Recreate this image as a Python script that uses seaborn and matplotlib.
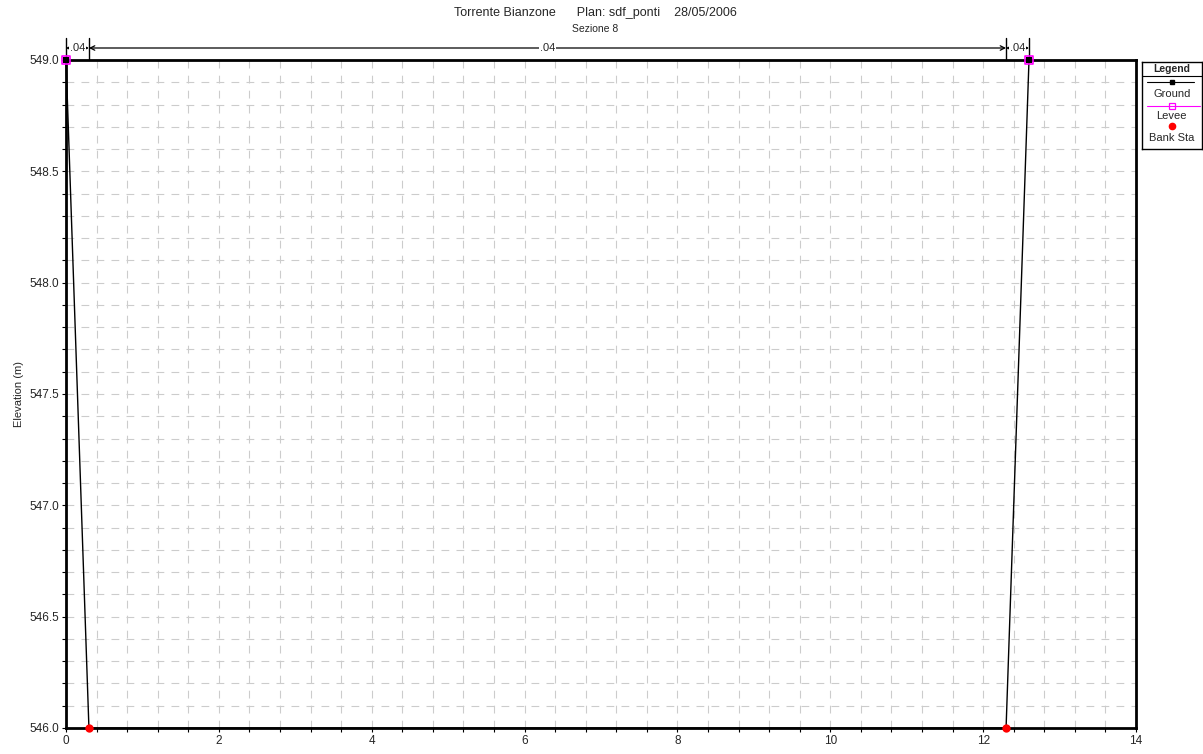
import numpy as np
import pandas as pd
import matplotlib
matplotlib.use("Agg")
import matplotlib.pyplot as plt
from matplotlib.ticker import MultipleLocator, FormatStrFormatter
import matplotlib.transforms as mtransforms
import seaborn as sns

# ---- data ----
ground_station = [0.0, 0.3, 12.3, 12.6]
ground_elev = [549.0, 546.0, 546.0, 549.0]
levee_station = [0.0, 12.6]
levee_elev = [549.0, 549.0]
bank_station = [0.3, 12.3]
bank_elev = [546.0, 546.0]
mann_breaks = [0.0, 0.3, 12.3, 12.6]
mann_values = [".04", ".04", ".04"]
title_main = "Torrente Bianzone      Plan: sdf_ponti    28/05/2006"
title_sub = "Sezione 8"
ylabel = "Elevation (m)"

sns.set_theme(style="white")
plt.rcParams['font.family'] = ['Liberation Sans', 'DejaVu Sans']

fig = plt.figure(figsize=(12.03, 7.54), dpi=100)
ax = fig.add_axes([66/1203, 1-728/754, (1136-66)/1203, (728-60)/754])

ground_df = pd.DataFrame({"Station": ground_station, "Elevation": ground_elev})
levee_df = pd.DataFrame({"Station": levee_station, "Elevation": levee_elev})
bank_df = pd.DataFrame({"Station": bank_station, "Elevation": bank_elev})

sns.lineplot(data=ground_df, x="Station", y="Elevation", ax=ax, color="black",
             lw=1.0, sort=False, estimator=None, zorder=5, clip_on=False)
sns.scatterplot(data=levee_df, x="Station", y="Elevation", ax=ax, marker="s",
                s=40, facecolor="none", edgecolor="#ff00ff", linewidth=1.2,
                zorder=7, clip_on=False)
sns.scatterplot(data=ground_df.iloc[[0, 3]], x="Station", y="Elevation", ax=ax,
                marker="s", s=14, color="black", linewidth=0, zorder=8, clip_on=False)
sns.scatterplot(data=bank_df, x="Station", y="Elevation", ax=ax, marker="o",
                s=36, color="red", linewidth=0, zorder=8, clip_on=False)

ax.set_xlim(0, 14)
ax.set_ylim(546.0, 549.0)
ax.xaxis.set_major_locator(MultipleLocator(2))
ax.xaxis.set_minor_locator(MultipleLocator(0.4))
ax.yaxis.set_major_locator(MultipleLocator(0.5))
ax.yaxis.set_minor_locator(MultipleLocator(0.1))
ax.yaxis.set_major_formatter(FormatStrFormatter("%.1f"))
ax.set_xlabel("")
ax.set_ylabel(ylabel, fontsize=8, labelpad=4)
ax.tick_params(which="both", direction="out", length=3, width=0.8, color="black",
               labelsize=8.5, pad=2, bottom=True, left=True)
ax.grid(which="both", color="#cccccc", linestyle=(0, (7, 6.5)), linewidth=0.8)
ax.set_axisbelow(True)
for s in ax.spines.values():
    s.set_linewidth(2.0)
    s.set_color("black")

# Manning's n dimension lines at top
trans = mtransforms.blended_transform_factory(ax.transData, ax.transAxes)
ytop = 1 + 22/668
yarr = 1 + 12/668
for xb in mann_breaks:
    ax.plot([xb, xb], [1.0, ytop], transform=trans, color="black", lw=1.0, clip_on=False)
for i, val in enumerate(mann_values):
    x0, x1 = mann_breaks[i], mann_breaks[i+1]
    ax.annotate("", xy=(x0, yarr), xytext=(x1, yarr), xycoords=trans, textcoords=trans,
                arrowprops=dict(arrowstyle="<->", color="black", lw=0.9,
                                shrinkA=0, shrinkB=0, mutation_scale=8),
                annotation_clip=False)
    ax.text((x0 + x1) / 2, yarr, val, transform=trans, ha="center", va="center",
            fontsize=8, bbox=dict(facecolor="white", edgecolor="none", pad=0.5),
            clip_on=False, zorder=10)

# titles
fig.text(595/1203, 1-13/754, title_main, ha="center", va="center", fontsize=9)
fig.text(595/1203, 1-29/754, title_sub, ha="center", va="center", fontsize=7.5)

# custom legend box
lax = fig.add_axes([1142/1203, 1-149/754, 59.5/1203, 87/754])
lax.set_xlim(0, 1)
lax.set_ylim(0, 1)
lax.set_xticks([])
lax.set_yticks([])
for s in lax.spines.values():
    s.set_linewidth(1.0)
    s.set_color("black")
lax.text(0.5, 0.915, "Legend", ha="center", va="center", fontsize=7.5, fontweight="bold")
lax.plot([0, 1], [0.84, 0.84], color="black", lw=0.8)
lax.plot([0.08, 0.88], [0.77, 0.77], color="black", lw=0.8)
lax.plot([0.5], [0.77], marker="s", color="black", ms=3.5)
lax.text(0.5, 0.63, "Ground", ha="center", va="center", fontsize=8)
lax.plot([0.08, 0.97], [0.50, 0.50], color="#ff00ff", lw=0.8)
lax.plot([0.5], [0.50], marker="s", mfc="none", mec="#ff00ff", ms=5, mew=0.9)
lax.text(0.5, 0.38, "Levee", ha="center", va="center", fontsize=8)
lax.plot([0.5], [0.26], marker="o", color="red", ms=4.5)
lax.text(0.5, 0.13, "Bank Sta", ha="center", va="center", fontsize=8)

fig.savefig("out.png", dpi=100)
